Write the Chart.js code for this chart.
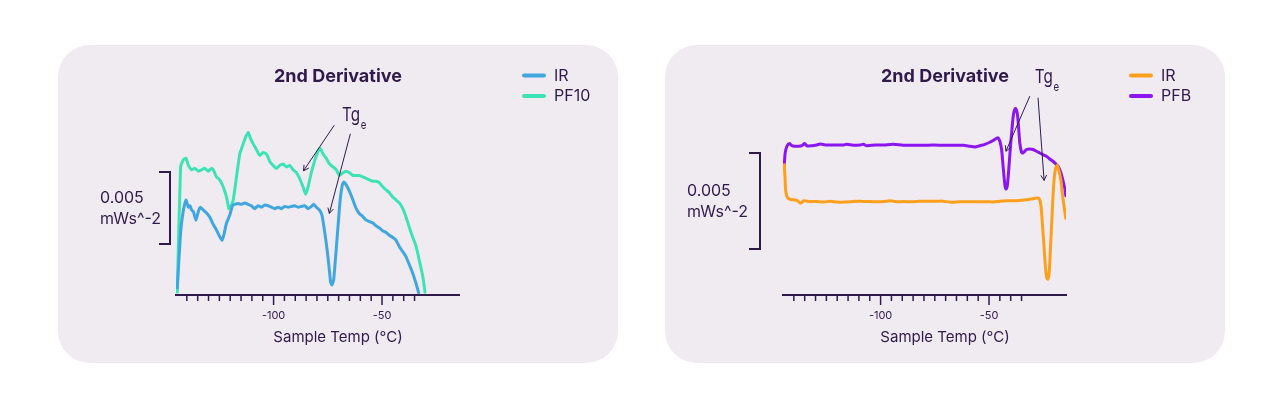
<!DOCTYPE html>
<html><head><meta charset="utf-8">
<script src="https://cdn.jsdelivr.net/npm/chart.js@4.4.1/dist/chart.umd.min.js"></script>
<style>
html,body{margin:0;padding:0;background:#ffffff;width:1280px;height:410px;overflow:hidden;}
.panel{position:absolute;top:45px;width:560px;height:318px;border-radius:32px;background:#f0ebf1;}
#p1{left:58px} #p2{left:665px}
canvas{position:absolute;left:0;top:0}
</style></head><body>
<div class="panel" id="p1"><canvas id="c1" width="560" height="318"></canvas></div>
<div class="panel" id="p2"><canvas id="c2" width="560" height="318"></canvas></div>
<script>
// ---------- text ----------
const chartTitle = '2nd Derivative';
const xAxisTitle = 'Sample Temp (°C)';
const scaleBarLines = ['0.005', 'mWs^-2'];
const annotationMain = 'Tg';
const annotationSub = 'e';
// ---------- axis ----------
const xMin = -145, xMax = -14.5;
const xMinorTicks = [-140,-135,-130,-125,-120,-115,-110,-105,-100,-95,-90,-85,-80,-75,-70,-65,-60,-55,-50,-45,-40,-35];
const xMajorTicks = [-100, -50];
const scaleBarSpan = 5; // 0.005 mWs^-2 expressed in 0.001 units
// ---------- left panel series (x = °C, y = 0.001 mWs^-2, offset) ----------
const leftNames = ['IR', 'PF10'];
const leftIR = [[-144.4,0.5],[-142.9,4.3],[-141.6,5.9],[-140.4,6.6],[-139.3,6.1],[-138.5,6.2],[-137.8,5.9],[-137.0,5.8],[-135.8,5.2],[-134.7,5.8],[-133.7,6.1],[-132.4,5.9],[-130.9,5.7],[-129.4,5.4],[-127.8,4.9],[-126.3,4.5],[-124.8,4.05],[-123.8,3.8],[-122.9,4.2],[-121.7,5.0],[-120.2,5.55],[-118.9,6.25],[-117.9,6.3],[-116.3,6.35],[-114.8,6.3],[-113.3,6.4],[-111.7,6.3],[-110.2,6.2],[-108.7,6.0],[-107.1,6.2],[-105.6,6.1],[-104.1,6.25],[-102.5,6.2],[-101.0,6.1],[-99.5,6.0],[-97.9,6.1],[-96.4,6.0],[-94.9,6.15],[-93.3,6.1],[-91.8,6.15],[-90.3,6.2],[-88.7,6.1],[-87.2,6.15],[-85.7,6.2],[-84.1,6.0],[-82.6,6.15],[-81.5,6.3],[-80.3,6.1],[-78.8,5.9],[-77.7,5.55],[-76.8,4.75],[-75.7,3.6],[-74.6,2.2],[-73.7,0.9],[-73.1,0.7],[-72.3,1.05],[-71.4,2.65],[-70.3,4.75],[-69.3,6.6],[-68.3,7.65],[-67.6,7.85],[-66.5,7.65],[-65.0,7.2],[-63.4,6.6],[-61.9,6.0],[-60.4,5.65],[-58.8,5.45],[-57.3,5.2],[-55.8,5.1],[-54.2,5.0],[-52.7,4.8],[-51.2,4.65],[-49.6,4.45],[-48.1,4.35],[-46.6,4.15],[-45.0,4.0],[-43.5,3.8],[-42.0,3.35],[-40.4,3.0],[-38.9,2.65],[-37.4,2.1],[-35.8,1.5],[-34.3,0.8],[-33.1,0.15]];
const leftPF10 = [[-144.4,0.2],[-142.9,8.9],[-141.6,9.4],[-140.4,9.5],[-139.3,9.0],[-137.8,8.7],[-136.3,8.8],[-134.7,8.6],[-133.2,8.7],[-131.7,8.8],[-130.1,8.6],[-128.6,8.8],[-127.8,8.7],[-126.3,8.2],[-124.8,8.0],[-123.2,7.5],[-121.7,6.8],[-120.6,6.0],[-119.9,6.1],[-118.6,6.6],[-117.1,8.2],[-115.6,9.8],[-114.0,10.5],[-112.8,11.0],[-111.7,11.3],[-110.7,10.9],[-109.4,10.5],[-107.9,10.1],[-106.4,9.7],[-104.8,9.9],[-103.3,9.8],[-101.8,9.3],[-100.2,9.0],[-98.7,8.8],[-97.2,9.0],[-95.6,9.1],[-94.1,8.9],[-92.6,9.0],[-91.0,8.7],[-89.5,8.5],[-88.0,8.1],[-86.4,7.5],[-85.2,7.0],[-84.1,7.5],[-82.6,8.5],[-81.1,9.3],[-79.5,10.0],[-78.5,10.2],[-77.2,9.8],[-75.7,9.5],[-74.2,9.1],[-72.6,8.9],[-71.1,8.7],[-69.6,8.3],[-68.0,8.5],[-66.5,8.6],[-65.0,8.5],[-63.4,8.3],[-61.9,8.3],[-60.4,8.3],[-58.8,8.2],[-57.3,8.1],[-55.8,8.0],[-54.2,7.9],[-52.7,7.9],[-51.2,7.8],[-49.6,7.5],[-48.1,7.3],[-46.6,7.1],[-45.0,6.8],[-43.5,6.6],[-42.0,6.4],[-40.4,6.0],[-38.9,5.4],[-37.4,4.7],[-35.8,4.0],[-34.3,3.4],[-32.8,2.4],[-31.2,1.3],[-30.2,0.2]];
// ---------- right panel series ----------
const rightNames = ['IR', 'PFB'];
const rightIR = [[-144.4,6.79],[-144.1,6.18],[-143.8,5.49],[-143.2,5.14],[-142.0,5.0],[-140.1,4.96],[-138.6,4.93],[-137.0,4.79],[-136.3,4.82],[-135.5,4.91],[-132.4,4.87],[-129.4,4.87],[-126.3,4.84],[-123.2,4.89],[-120.2,4.84],[-117.1,4.84],[-114.0,4.86],[-111.0,4.89],[-107.9,4.87],[-104.8,4.87],[-101.8,4.86],[-98.7,4.87],[-95.6,4.91],[-92.6,4.86],[-89.5,4.87],[-86.4,4.86],[-83.4,4.87],[-80.3,4.89],[-77.2,4.89],[-74.2,4.89],[-71.1,4.89],[-68.0,4.84],[-63.4,4.86],[-58.8,4.86],[-54.2,4.86],[-49.6,4.86],[-48.1,4.84],[-45.0,4.89],[-41.9,4.91],[-38.9,4.91],[-35.8,4.93],[-32.7,4.96],[-29.7,5.02],[-28.1,5.05],[-26.9,5.03],[-26.1,4.7],[-25.4,3.74],[-24.75,2.7],[-24.1,1.65],[-23.5,0.96],[-22.9,0.82],[-22.3,1.13],[-21.7,2.35],[-21.1,3.74],[-20.5,5.14],[-19.85,6.18],[-19.2,6.62],[-18.6,6.74],[-17.85,6.53],[-16.9,6.01],[-16.2,5.31],[-15.4,4.61],[-14.6,4.0]];
const rightPFB = [[-144.4,6.79],[-144.0,7.4],[-143.2,7.75],[-142.0,7.89],[-140.9,7.78],[-139.3,7.75],[-137.8,7.75],[-136.3,7.78],[-135.0,7.89],[-134.0,7.78],[-131.7,7.78],[-129.4,7.82],[-127.8,7.87],[-125.5,7.82],[-123.2,7.82],[-120.2,7.82],[-117.1,7.82],[-115.6,7.85],[-112.5,7.8],[-109.4,7.82],[-107.9,7.85],[-106.4,7.78],[-102.5,7.82],[-98.7,7.82],[-94.1,7.85],[-89.5,7.8],[-84.9,7.8],[-80.3,7.8],[-75.7,7.82],[-71.1,7.8],[-66.5,7.8],[-61.9,7.8],[-58.8,7.75],[-56.5,7.71],[-54.2,7.78],[-51.9,7.85],[-49.6,7.96],[-48.1,8.05],[-46.5,8.17],[-45.8,8.19],[-45.0,8.01],[-44.2,7.58],[-43.5,6.7],[-42.7,5.75],[-42.2,5.52],[-41.6,5.66],[-40.9,6.53],[-40.1,7.75],[-39.3,8.79],[-38.6,9.49],[-37.8,9.72],[-37.0,9.49],[-36.4,8.79],[-35.8,7.92],[-35.0,7.44],[-34.3,7.4],[-32.7,7.58],[-31.2,7.61],[-29.7,7.58],[-28.1,7.49],[-26.6,7.4],[-25.1,7.31],[-23.5,7.23],[-22.0,7.09],[-20.5,6.97],[-18.9,6.79],[-18.15,6.7],[-17.4,6.53],[-16.6,6.27],[-15.8,5.92],[-15.1,5.57],[-14.6,5.17]];

const INK = '#2f1a4b';
const FONT = 'Inter, "Open Sans", sans-serif';

function arrow(ctx, x1, y1, x2, y2) {
  ctx.beginPath(); ctx.moveTo(x1, y1); ctx.lineTo(x2, y2); ctx.stroke();
  const a = Math.atan2(y2 - y1, x2 - x1), L = 6, s = 0.5;
  ctx.beginPath();
  ctx.moveTo(x2 - L * Math.cos(a - s), y2 - L * Math.sin(a - s));
  ctx.lineTo(x2, y2);
  ctx.lineTo(x2 - L * Math.cos(a + s), y2 - L * Math.sin(a + s));
  ctx.stroke();
}

const decor = {
  id: 'decor',
  afterDraw(chart, args, o) {
    const ctx = chart.ctx, xs = chart.scales.x, ys = chart.scales.y, ca = chart.chartArea;
    ctx.save();
    ctx.strokeStyle = INK; ctx.fillStyle = INK;
    // tick marks
    ctx.lineWidth = 1.5;
    xMinorTicks.forEach(v => {
      const px = xs.getPixelForValue(v);
      const len = xMajorTicks.includes(v) ? 10 : 6;
      ctx.beginPath(); ctx.moveTo(px, ca.bottom); ctx.lineTo(px, ca.bottom + len); ctx.stroke();
    });
    // title
    ctx.textAlign = 'center'; ctx.textBaseline = 'middle';
    ctx.font = 'bold 18px ' + FONT;
    ctx.fillText(chartTitle, chart.width / 2, 32);
    // x-axis title
    ctx.font = '15px ' + FONT;
    ctx.fillText(xAxisTitle, chart.width / 2, 292);
    // legend
    ctx.textAlign = 'left';
    ctx.font = '16px ' + FONT;
    chart.data.datasets.forEach((d, i) => {
      const y = 30.5 + i * 20.5;
      ctx.save();
      ctx.strokeStyle = d.borderColor; ctx.lineWidth = 4; ctx.lineCap = 'round';
      ctx.beginPath(); ctx.moveTo(466, y); ctx.lineTo(486, y); ctx.stroke();
      ctx.restore();
      ctx.fillText(d.label, 496, y + 0.5);
    });
    // scale bar
    const yTop = ys.getPixelForValue(o.barFrom + scaleBarSpan), yBot = ys.getPixelForValue(o.barFrom);
    const bx = ca.left - o.barGap;
    ctx.lineWidth = 2;
    ctx.beginPath();
    ctx.moveTo(bx - 11, yTop); ctx.lineTo(bx, yTop); ctx.lineTo(bx, yBot); ctx.lineTo(bx - 11, yBot);
    ctx.stroke();
    ctx.font = '16px ' + FONT;
    const mid = (yTop + yBot) / 2;
    ctx.fillText(scaleBarLines[0], bx - o.textGap, mid - 10);
    ctx.fillText(scaleBarLines[1], bx - o.textGap, mid + 11);
    // annotation arrows
    ctx.lineWidth = 1;
    o.arrows.forEach(a => {
      arrow(ctx, xs.getPixelForValue(a[0]), ys.getPixelForValue(a[1]), xs.getPixelForValue(a[2]), ys.getPixelForValue(a[3]));
    });
    // annotation text
    const tx = xs.getPixelForValue(o.label[0]), ty = ys.getPixelForValue(o.label[1]);
    ctx.save();
    ctx.translate(tx, ty);
    ctx.scale(0.8, 1);
    ctx.font = '19px ' + FONT;
    ctx.fillText(annotationMain, 0, 0);
    const w = ctx.measureText(annotationMain).width;
    ctx.font = '12px ' + FONT;
    ctx.fillText(annotationSub, w + 1, 10);
    ctx.restore();
    ctx.restore();
  }
};

function makeChart(id, names, series, colors, yMax, opts) {
  return new Chart(document.getElementById(id), {
    type: 'line',
    data: {
      datasets: series.map((s, i) => ({
        label: names[i],
        data: s.map(p => ({ x: p[0], y: p[1] })),
        borderColor: colors[i],
        borderWidth: 3,
        pointRadius: 0,
        tension: opts.tension,
        borderJoinStyle: 'round',
        borderCapStyle: 'round',
        fill: false
      }))
    },
    options: {
      responsive: false,
      animation: false,
      devicePixelRatio: 1,
      layout: { padding: { left: 118, right: 159, top: 48.5, bottom: 18 } },
      plugins: { legend: { display: false }, title: { display: false }, tooltip: { enabled: false }, decor: opts },
      scales: {
        x: {
          type: 'linear', min: xMin, max: xMax,
          afterFit: s => { s.height = 50; },
          afterBuildTicks: s => { s.ticks = xMajorTicks.map(v => ({ value: v })); },
          grid: { display: true, drawOnChartArea: false, drawTicks: false, color: 'rgba(0,0,0,0)' },
          border: { display: true, color: INK, width: 2 },
          ticks: { color: INK, font: { family: FONT, size: 11 }, padding: 14, maxRotation: 0, autoSkip: false,
                   callback: v => String(v) }
        },
        y: { type: 'linear', min: 0, max: yMax, display: false }
      }
    },
    plugins: [decor]
  });
}

makeChart('c1', leftNames, [leftIR, leftPF10], ['#3fa6e0', '#3ee3b5'], 14, {
  tension: 0.15, barFrom: 3.55, barGap: 6, textGap: 70,
  arrows: [[-72.0, 11.8, -86.2, 8.63], [-64.6, 11.2, -74.3, 5.67]],
  label: [-68.4, 12.5]
});
makeChart('c2', rightNames, [rightIR, rightPFB], ['#ff9f1c', '#8b16f0'], 10.5, {
  tension: 0.3, barFrom: 2.4, barGap: 23, textGap: 73,
  arrows: [[-31.2, 10.36, -42.2, 7.49], [-27.4, 10.28, -24.6, 5.97]],
  label: [-28.9, 11.34]
});
</script>
</body></html>
